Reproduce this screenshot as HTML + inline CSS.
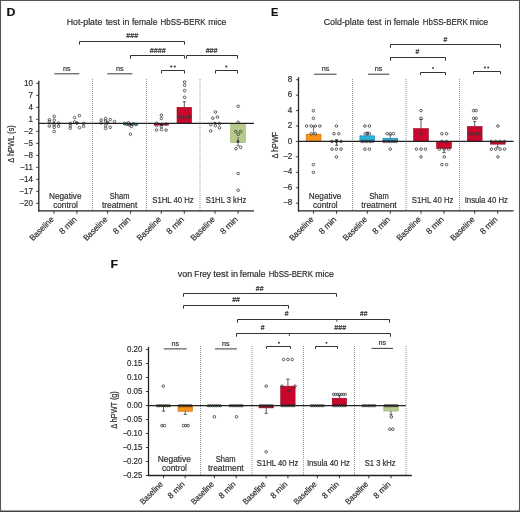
<!DOCTYPE html>
<html><head><meta charset="utf-8"><style>
html,body{margin:0;padding:0;background:#fff;}
svg{display:block;will-change:transform;}
text{font-family:"Liberation Sans", sans-serif;stroke:#2b2b2b;stroke-width:0.18px;paint-order:stroke;}
</style></head><body>
<svg width="520" height="512" viewBox="0 0 520 512">
<rect x="0" y="0" width="520" height="512" fill="#fff"/>
<text x="6.6" y="15.9" font-size="11" text-anchor="start" fill="#111" textLength="8.9" lengthAdjust="spacingAndGlyphs" font-weight="bold">D</text>
<text x="84.5" y="24.7" font-size="8.8" text-anchor="middle" fill="#2b2b2b" textLength="35.7" lengthAdjust="spacingAndGlyphs">Hot-plate</text>
<text x="112.75" y="24.7" font-size="8.8" text-anchor="middle" fill="#2b2b2b" textLength="14.2" lengthAdjust="spacingAndGlyphs">test</text>
<text x="125.95" y="24.7" font-size="8.8" text-anchor="middle" fill="#2b2b2b" textLength="6.8" lengthAdjust="spacingAndGlyphs">in</text>
<text x="144.65" y="24.7" font-size="8.8" text-anchor="middle" fill="#2b2b2b" textLength="25.4" lengthAdjust="spacingAndGlyphs">female</text>
<text x="183" y="24.7" font-size="8.8" text-anchor="middle" fill="#2b2b2b" textLength="44.9" lengthAdjust="spacingAndGlyphs">HbSS-BERK</text>
<text x="217.25" y="24.7" font-size="8.8" text-anchor="middle" fill="#2b2b2b" textLength="18.2" lengthAdjust="spacingAndGlyphs">mice</text>
<line x1="36.2" y1="83.3" x2="38.8" y2="83.3" stroke="#2b2b2b" stroke-width="0.9"/>
<text x="32.9" y="85.7" font-size="8.6" text-anchor="end" fill="#2b2b2b" textLength="8.9" lengthAdjust="spacingAndGlyphs">10</text>
<line x1="36.2" y1="95.3" x2="38.8" y2="95.3" stroke="#2b2b2b" stroke-width="0.9"/>
<text x="32.9" y="97.7" font-size="8.6" text-anchor="end" fill="#2b2b2b" textLength="4.45" lengthAdjust="spacingAndGlyphs">7</text>
<line x1="36.2" y1="107.3" x2="38.8" y2="107.3" stroke="#2b2b2b" stroke-width="0.9"/>
<text x="32.9" y="109.7" font-size="8.6" text-anchor="end" fill="#2b2b2b" textLength="4.45" lengthAdjust="spacingAndGlyphs">4</text>
<line x1="36.2" y1="119.3" x2="38.8" y2="119.3" stroke="#2b2b2b" stroke-width="0.9"/>
<text x="32.9" y="121.7" font-size="8.6" text-anchor="end" fill="#2b2b2b" textLength="4.45" lengthAdjust="spacingAndGlyphs">1</text>
<line x1="36.2" y1="131.3" x2="38.8" y2="131.3" stroke="#2b2b2b" stroke-width="0.9"/>
<text x="32.9" y="133.7" font-size="8.6" text-anchor="end" fill="#2b2b2b" textLength="9.12" lengthAdjust="spacingAndGlyphs">−2</text>
<line x1="36.2" y1="143.3" x2="38.8" y2="143.3" stroke="#2b2b2b" stroke-width="0.9"/>
<text x="32.9" y="145.7" font-size="8.6" text-anchor="end" fill="#2b2b2b" textLength="9.12" lengthAdjust="spacingAndGlyphs">−5</text>
<line x1="36.2" y1="155.3" x2="38.8" y2="155.3" stroke="#2b2b2b" stroke-width="0.9"/>
<text x="32.9" y="157.7" font-size="8.6" text-anchor="end" fill="#2b2b2b" textLength="9.12" lengthAdjust="spacingAndGlyphs">−8</text>
<line x1="36.2" y1="167.3" x2="38.8" y2="167.3" stroke="#2b2b2b" stroke-width="0.9"/>
<text x="32.9" y="169.7" font-size="8.6" text-anchor="end" fill="#2b2b2b" textLength="12.97" lengthAdjust="spacingAndGlyphs">−11</text>
<line x1="36.2" y1="179.3" x2="38.8" y2="179.3" stroke="#2b2b2b" stroke-width="0.9"/>
<text x="32.9" y="181.7" font-size="8.6" text-anchor="end" fill="#2b2b2b" textLength="13.57" lengthAdjust="spacingAndGlyphs">−14</text>
<line x1="36.2" y1="191.3" x2="38.8" y2="191.3" stroke="#2b2b2b" stroke-width="0.9"/>
<text x="32.9" y="193.7" font-size="8.6" text-anchor="end" fill="#2b2b2b" textLength="13.57" lengthAdjust="spacingAndGlyphs">−17</text>
<line x1="36.2" y1="203.3" x2="38.8" y2="203.3" stroke="#2b2b2b" stroke-width="0.9"/>
<text x="32.9" y="205.7" font-size="8.6" text-anchor="end" fill="#2b2b2b" textLength="13.57" lengthAdjust="spacingAndGlyphs">−20</text>
<text transform="translate(14.1,144) rotate(-90)" x="0" y="0" font-size="8.3" text-anchor="middle" fill="#2b2b2b" textLength="37.4" lengthAdjust="spacingAndGlyphs">Δ hPWL (s)</text>
<line x1="92.5" y1="79" x2="92.5" y2="211" stroke="#959595" stroke-width="1.0" stroke-dasharray="1 1"/>
<line x1="146.5" y1="79" x2="146.5" y2="211" stroke="#959595" stroke-width="1.0" stroke-dasharray="1 1"/>
<line x1="200" y1="79" x2="200" y2="211" stroke="#959595" stroke-width="1.0" stroke-dasharray="1 1"/>
<rect x="123.3" y="123.3" width="14.6" height="1.6" fill="#2bb1da" stroke="#1a7fb0" stroke-width="0.6"/>
<rect x="154" y="123.3" width="14.6" height="1.8" fill="#c9062b" stroke="#9a0a20" stroke-width="0.6"/>
<rect x="177" y="107.3" width="14.6" height="16" fill="#c9062b" stroke="#9a0a20" stroke-width="0.6"/>
<rect x="207.7" y="123.1" width="14.6" height="0.2" fill="#b7ca8c" stroke="#98ad6c" stroke-width="0.6"/>
<rect x="230.7" y="123.3" width="14.6" height="19.2" fill="#b7ca8c" stroke="#98ad6c" stroke-width="0.6"/>
<line x1="184.3" y1="107.3" x2="184.3" y2="101.7" stroke="#333" stroke-width="0.8"/>
<line x1="182.7" y1="101.7" x2="185.9" y2="101.7" stroke="#333" stroke-width="0.8"/>
<line x1="238" y1="137" x2="238" y2="145.8" stroke="#444" stroke-width="0.8"/>
<line x1="236.5" y1="145.8" x2="239.5" y2="145.8" stroke="#444" stroke-width="0.8"/>
<circle cx="49.4" cy="119.8" r="1.3" fill="none" stroke="#383838" stroke-width="0.8"/>
<circle cx="49.4" cy="121.6" r="1.3" fill="none" stroke="#383838" stroke-width="0.8"/>
<circle cx="49.4" cy="126.1" r="1.3" fill="none" stroke="#383838" stroke-width="0.8"/>
<circle cx="54.2" cy="116.4" r="1.3" fill="none" stroke="#383838" stroke-width="0.8"/>
<circle cx="54.2" cy="120.2" r="1.3" fill="none" stroke="#383838" stroke-width="0.8"/>
<circle cx="54.2" cy="127.3" r="1.3" fill="none" stroke="#383838" stroke-width="0.8"/>
<circle cx="54.2" cy="131.5" r="1.3" fill="none" stroke="#383838" stroke-width="0.8"/>
<circle cx="54.2" cy="124.8" r="1.3" fill="none" stroke="#383838" stroke-width="0.8"/>
<circle cx="58.6" cy="123.2" r="1.3" fill="none" stroke="#383838" stroke-width="0.8"/>
<circle cx="58.6" cy="126.3" r="1.3" fill="none" stroke="#383838" stroke-width="0.8"/>
<circle cx="70.3" cy="123.4" r="1.3" fill="none" stroke="#383838" stroke-width="0.8"/>
<circle cx="70.3" cy="125.6" r="1.3" fill="none" stroke="#383838" stroke-width="0.8"/>
<circle cx="70.3" cy="128.3" r="1.3" fill="none" stroke="#383838" stroke-width="0.8"/>
<circle cx="74.6" cy="117.5" r="1.3" fill="none" stroke="#383838" stroke-width="0.8"/>
<circle cx="74.6" cy="121.9" r="1.3" fill="none" stroke="#383838" stroke-width="0.8"/>
<circle cx="77.1" cy="123" r="1.3" fill="none" stroke="#383838" stroke-width="0.8"/>
<circle cx="79.4" cy="115.6" r="1.3" fill="none" stroke="#383838" stroke-width="0.8"/>
<circle cx="79.4" cy="127.7" r="1.3" fill="none" stroke="#383838" stroke-width="0.8"/>
<circle cx="83.6" cy="123.4" r="1.3" fill="none" stroke="#383838" stroke-width="0.8"/>
<circle cx="83.6" cy="126.3" r="1.3" fill="none" stroke="#383838" stroke-width="0.8"/>
<circle cx="101.2" cy="120.1" r="1.3" fill="none" stroke="#383838" stroke-width="0.8"/>
<circle cx="101.2" cy="123" r="1.3" fill="none" stroke="#383838" stroke-width="0.8"/>
<circle cx="105.6" cy="118.6" r="1.3" fill="none" stroke="#383838" stroke-width="0.8"/>
<circle cx="105.6" cy="121" r="1.3" fill="none" stroke="#383838" stroke-width="0.8"/>
<circle cx="105.6" cy="125.6" r="1.3" fill="none" stroke="#383838" stroke-width="0.8"/>
<circle cx="105.6" cy="128.4" r="1.3" fill="none" stroke="#383838" stroke-width="0.8"/>
<circle cx="107.6" cy="122.5" r="1.3" fill="none" stroke="#383838" stroke-width="0.8"/>
<circle cx="110.2" cy="119.6" r="1.3" fill="none" stroke="#383838" stroke-width="0.8"/>
<circle cx="110.2" cy="127.3" r="1.3" fill="none" stroke="#383838" stroke-width="0.8"/>
<circle cx="114.5" cy="121.5" r="1.3" fill="none" stroke="#383838" stroke-width="0.8"/>
<circle cx="124.5" cy="123.3" r="1.3" fill="none" stroke="#383838" stroke-width="0.8"/>
<circle cx="127" cy="124.2" r="1.3" fill="none" stroke="#383838" stroke-width="0.8"/>
<circle cx="129.5" cy="125" r="1.3" fill="none" stroke="#383838" stroke-width="0.8"/>
<circle cx="131.5" cy="126.5" r="1.3" fill="none" stroke="#383838" stroke-width="0.8"/>
<circle cx="133.5" cy="123.8" r="1.3" fill="none" stroke="#383838" stroke-width="0.8"/>
<circle cx="136" cy="124.5" r="1.3" fill="none" stroke="#383838" stroke-width="0.8"/>
<circle cx="130.4" cy="134.2" r="1.3" fill="none" stroke="#383838" stroke-width="0.8"/>
<circle cx="128.5" cy="122.8" r="1.3" fill="none" stroke="#383838" stroke-width="0.8"/>
<circle cx="156.5" cy="123.2" r="1.3" fill="none" stroke="#383838" stroke-width="0.8"/>
<circle cx="161.4" cy="115.1" r="1.3" fill="none" stroke="#383838" stroke-width="0.8"/>
<circle cx="161.4" cy="118.4" r="1.3" fill="none" stroke="#383838" stroke-width="0.8"/>
<circle cx="161.4" cy="126.6" r="1.3" fill="none" stroke="#383838" stroke-width="0.8"/>
<circle cx="161.4" cy="129.5" r="1.3" fill="none" stroke="#383838" stroke-width="0.8"/>
<circle cx="156.5" cy="125.4" r="1.3" fill="none" stroke="#383838" stroke-width="0.8"/>
<circle cx="156.5" cy="130.1" r="1.3" fill="none" stroke="#383838" stroke-width="0.8"/>
<circle cx="166.1" cy="130.1" r="1.3" fill="none" stroke="#383838" stroke-width="0.8"/>
<circle cx="166.1" cy="124" r="1.3" fill="none" stroke="#383838" stroke-width="0.8"/>
<circle cx="184.6" cy="82" r="1.3" fill="none" stroke="#383838" stroke-width="0.8"/>
<circle cx="184.6" cy="85.3" r="1.3" fill="none" stroke="#383838" stroke-width="0.8"/>
<circle cx="184.6" cy="90.6" r="1.3" fill="none" stroke="#383838" stroke-width="0.8"/>
<circle cx="184.6" cy="97.3" r="1.3" fill="none" stroke="#383838" stroke-width="0.8"/>
<circle cx="179" cy="116.6" r="1.3" fill="none" stroke="#383838" stroke-width="0.8"/>
<circle cx="190" cy="116.6" r="1.3" fill="none" stroke="#383838" stroke-width="0.8"/>
<circle cx="184.6" cy="117.8" r="1.3" fill="none" stroke="#383838" stroke-width="0.8"/>
<circle cx="181.7" cy="117" r="1.3" fill="none" stroke="#383838" stroke-width="0.8"/>
<circle cx="187.5" cy="117" r="1.3" fill="none" stroke="#383838" stroke-width="0.8"/>
<circle cx="212.8" cy="118.2" r="1.3" fill="none" stroke="#383838" stroke-width="0.8"/>
<circle cx="215.4" cy="112" r="1.3" fill="none" stroke="#383838" stroke-width="0.8"/>
<circle cx="217.5" cy="117.1" r="1.3" fill="none" stroke="#383838" stroke-width="0.8"/>
<circle cx="210.7" cy="124.7" r="1.3" fill="none" stroke="#383838" stroke-width="0.8"/>
<circle cx="210.7" cy="130.9" r="1.3" fill="none" stroke="#383838" stroke-width="0.8"/>
<circle cx="219.5" cy="123.7" r="1.3" fill="none" stroke="#383838" stroke-width="0.8"/>
<circle cx="219.5" cy="127.8" r="1.3" fill="none" stroke="#383838" stroke-width="0.8"/>
<circle cx="215.4" cy="125.7" r="1.3" fill="none" stroke="#383838" stroke-width="0.8"/>
<circle cx="238.2" cy="106.3" r="1.3" fill="none" stroke="#383838" stroke-width="0.8"/>
<circle cx="238.2" cy="122.3" r="1.3" fill="none" stroke="#383838" stroke-width="0.8"/>
<circle cx="235.7" cy="131.5" r="1.3" fill="none" stroke="#383838" stroke-width="0.8"/>
<circle cx="240.6" cy="131.5" r="1.3" fill="none" stroke="#383838" stroke-width="0.8"/>
<circle cx="238.2" cy="134.3" r="1.3" fill="none" stroke="#383838" stroke-width="0.8"/>
<circle cx="236" cy="148.7" r="1.3" fill="none" stroke="#383838" stroke-width="0.8"/>
<circle cx="240.6" cy="147.3" r="1.3" fill="none" stroke="#383838" stroke-width="0.8"/>
<circle cx="238.2" cy="173.5" r="1.3" fill="none" stroke="#383838" stroke-width="0.8"/>
<circle cx="238.2" cy="190.3" r="1.3" fill="none" stroke="#383838" stroke-width="0.8"/>
<circle cx="53.9" cy="123.2" r="1.0" fill="#222" stroke="#222" stroke-width="0.6"/>
<circle cx="76.9" cy="123.2" r="1.0" fill="#222" stroke="#222" stroke-width="0.6"/>
<circle cx="107.6" cy="123.2" r="1.0" fill="#222" stroke="#222" stroke-width="0.6"/>
<circle cx="130.6" cy="124.4" r="1.0" fill="#222" stroke="#222" stroke-width="0.6"/>
<circle cx="161.3" cy="124.7" r="1.0" fill="#222" stroke="#222" stroke-width="0.6"/>
<circle cx="215" cy="123.2" r="1.0" fill="#222" stroke="#222" stroke-width="0.6"/>
<circle cx="238" cy="141.5" r="1.1" fill="#333" stroke="#333" stroke-width="0.5"/>
<line x1="38.8" y1="80.7" x2="38.8" y2="211.4" stroke="#222" stroke-width="1.3"/>
<line x1="38.2" y1="210.8" x2="254" y2="210.8" stroke="#222" stroke-width="1.3"/>
<line x1="38.8" y1="123.3" x2="254" y2="123.3" stroke="#222" stroke-width="1.25"/>
<line x1="53.9" y1="210.8" x2="53.9" y2="213.8" stroke="#222" stroke-width="0.9"/>
<line x1="76.9" y1="210.8" x2="76.9" y2="213.8" stroke="#222" stroke-width="0.9"/>
<line x1="107.6" y1="210.8" x2="107.6" y2="213.8" stroke="#222" stroke-width="0.9"/>
<line x1="130.6" y1="210.8" x2="130.6" y2="213.8" stroke="#222" stroke-width="0.9"/>
<line x1="161.3" y1="210.8" x2="161.3" y2="213.8" stroke="#222" stroke-width="0.9"/>
<line x1="184.3" y1="210.8" x2="184.3" y2="213.8" stroke="#222" stroke-width="0.9"/>
<line x1="215" y1="210.8" x2="215" y2="213.8" stroke="#222" stroke-width="0.9"/>
<line x1="238" y1="210.8" x2="238" y2="213.8" stroke="#222" stroke-width="0.9"/>
<text x="65.25" y="198.5" font-size="8.8" text-anchor="middle" fill="#2b2b2b" textLength="32.5" lengthAdjust="spacingAndGlyphs">Negative</text>
<text x="65.5" y="207.7" font-size="8.8" text-anchor="middle" fill="#2b2b2b" textLength="24.7" lengthAdjust="spacingAndGlyphs">control</text>
<text x="119.6" y="198.5" font-size="8.8" text-anchor="middle" fill="#2b2b2b" textLength="19.6" lengthAdjust="spacingAndGlyphs">Sham</text>
<text x="119.6" y="207.7" font-size="8.8" text-anchor="middle" fill="#2b2b2b" textLength="35.4" lengthAdjust="spacingAndGlyphs">treatment</text>
<text x="173" y="203.1" font-size="8.8" text-anchor="middle" fill="#2b2b2b" textLength="41.5" lengthAdjust="spacingAndGlyphs">S1HL 40 Hz</text>
<text x="226" y="203.1" font-size="8.8" text-anchor="middle" fill="#2b2b2b" textLength="40.4" lengthAdjust="spacingAndGlyphs">S1HL 3 kHz</text>
<text transform="translate(54.3,220) rotate(-45)" x="0" y="0" font-size="8.5" text-anchor="end" fill="#2b2b2b" textLength="30.2" lengthAdjust="spacingAndGlyphs">Baseline</text>
<text transform="translate(77.3,220) rotate(-45)" x="0" y="0" font-size="8.5" text-anchor="end" fill="#2b2b2b" textLength="21" lengthAdjust="spacingAndGlyphs">8 min</text>
<text transform="translate(108,220) rotate(-45)" x="0" y="0" font-size="8.5" text-anchor="end" fill="#2b2b2b" textLength="30.2" lengthAdjust="spacingAndGlyphs">Baseline</text>
<text transform="translate(131,220) rotate(-45)" x="0" y="0" font-size="8.5" text-anchor="end" fill="#2b2b2b" textLength="21" lengthAdjust="spacingAndGlyphs">8 min</text>
<text transform="translate(161.7,220) rotate(-45)" x="0" y="0" font-size="8.5" text-anchor="end" fill="#2b2b2b" textLength="30.2" lengthAdjust="spacingAndGlyphs">Baseline</text>
<text transform="translate(184.7,220) rotate(-45)" x="0" y="0" font-size="8.5" text-anchor="end" fill="#2b2b2b" textLength="21" lengthAdjust="spacingAndGlyphs">8 min</text>
<text transform="translate(215.4,220) rotate(-45)" x="0" y="0" font-size="8.5" text-anchor="end" fill="#2b2b2b" textLength="30.2" lengthAdjust="spacingAndGlyphs">Baseline</text>
<text transform="translate(238.4,220) rotate(-45)" x="0" y="0" font-size="8.5" text-anchor="end" fill="#2b2b2b" textLength="21" lengthAdjust="spacingAndGlyphs">8 min</text>
<line x1="54.4" y1="73.8" x2="79.3" y2="73.8" stroke="#3a3a3a" stroke-width="1.0"/>
<text x="66.9" y="70.5" font-size="8.0" text-anchor="middle" fill="#2b2b2b" textLength="7.6" lengthAdjust="spacingAndGlyphs">ns</text>
<line x1="107.3" y1="73.8" x2="132.4" y2="73.8" stroke="#3a3a3a" stroke-width="1.0"/>
<text x="119.8" y="70.5" font-size="8.0" text-anchor="middle" fill="#2b2b2b" textLength="7.6" lengthAdjust="spacingAndGlyphs">ns</text>
<path d="M79.5,44.7 L79.5,41.5 L184.5,41.5 L184.5,44.7" stroke="#333" stroke-width="1.0" fill="none"/>
<text x="132.2" y="38.38" font-size="6.8" text-anchor="middle" fill="#2b2b2b" textLength="11.84" lengthAdjust="spacingAndGlyphs">###</text>
<path d="M130.5,58.7 L130.5,55.5 L184.5,55.5 L184.5,58.7" stroke="#333" stroke-width="1.0" fill="none"/>
<text x="157.75" y="52.58" font-size="6.8" text-anchor="middle" fill="#2b2b2b" textLength="15.94" lengthAdjust="spacingAndGlyphs">####</text>
<path d="M186.5,58.7 L186.5,55.5 L237.5,55.5 L237.5,58.7" stroke="#333" stroke-width="1.0" fill="none"/>
<text x="211.6" y="52.58" font-size="6.8" text-anchor="middle" fill="#2b2b2b" textLength="11.84" lengthAdjust="spacingAndGlyphs">###</text>
<path d="M161.5,73.5 L161.5,70.5 L184.5,70.5 L184.5,73.5" stroke="#333" stroke-width="1.0" fill="none"/>
<circle cx="171.28" cy="66.5" r="1.1" fill="#333"/>
<circle cx="174.72" cy="66.5" r="1.1" fill="#333"/>
<path d="M215.5,73.5 L215.5,70.5 L237.5,70.5 L237.5,73.5" stroke="#333" stroke-width="1.0" fill="none"/>
<circle cx="226.3" cy="66.5" r="1.1" fill="#333"/>
<text x="271.1" y="16.2" font-size="11" text-anchor="start" fill="#111" font-weight="bold">E</text>
<text x="343.88" y="25" font-size="8.8" text-anchor="middle" fill="#2b2b2b" textLength="40.45" lengthAdjust="spacingAndGlyphs">Cold-plate</text>
<text x="374.35" y="25" font-size="8.8" text-anchor="middle" fill="#2b2b2b" textLength="14.2" lengthAdjust="spacingAndGlyphs">test</text>
<text x="387.85" y="25" font-size="8.8" text-anchor="middle" fill="#2b2b2b" textLength="6.8" lengthAdjust="spacingAndGlyphs">in</text>
<text x="406.4" y="25" font-size="8.8" text-anchor="middle" fill="#2b2b2b" textLength="25.5" lengthAdjust="spacingAndGlyphs">female</text>
<text x="445.3" y="25" font-size="8.8" text-anchor="middle" fill="#2b2b2b" textLength="44.9" lengthAdjust="spacingAndGlyphs">HbSS-BERK</text>
<text x="478.95" y="25" font-size="8.8" text-anchor="middle" fill="#2b2b2b" textLength="18.6" lengthAdjust="spacingAndGlyphs">mice</text>
<line x1="295.9" y1="79.73" x2="298.5" y2="79.73" stroke="#2b2b2b" stroke-width="0.9"/>
<text x="292.1" y="81.83" font-size="8.6" text-anchor="end" fill="#2b2b2b" textLength="4.45" lengthAdjust="spacingAndGlyphs">8</text>
<line x1="295.9" y1="95.16" x2="298.5" y2="95.16" stroke="#2b2b2b" stroke-width="0.9"/>
<text x="292.1" y="97.26" font-size="8.6" text-anchor="end" fill="#2b2b2b" textLength="4.45" lengthAdjust="spacingAndGlyphs">6</text>
<line x1="295.9" y1="110.59" x2="298.5" y2="110.59" stroke="#2b2b2b" stroke-width="0.9"/>
<text x="292.1" y="112.69" font-size="8.6" text-anchor="end" fill="#2b2b2b" textLength="4.45" lengthAdjust="spacingAndGlyphs">4</text>
<line x1="295.9" y1="126.02" x2="298.5" y2="126.02" stroke="#2b2b2b" stroke-width="0.9"/>
<text x="292.1" y="128.12" font-size="8.6" text-anchor="end" fill="#2b2b2b" textLength="4.45" lengthAdjust="spacingAndGlyphs">2</text>
<line x1="295.9" y1="141.45" x2="298.5" y2="141.45" stroke="#2b2b2b" stroke-width="0.9"/>
<text x="292.1" y="143.55" font-size="8.6" text-anchor="end" fill="#2b2b2b" textLength="4.45" lengthAdjust="spacingAndGlyphs">0</text>
<line x1="295.9" y1="156.88" x2="298.5" y2="156.88" stroke="#2b2b2b" stroke-width="0.9"/>
<text x="292.1" y="158.98" font-size="8.6" text-anchor="end" fill="#2b2b2b" textLength="9.12" lengthAdjust="spacingAndGlyphs">−2</text>
<line x1="295.9" y1="172.31" x2="298.5" y2="172.31" stroke="#2b2b2b" stroke-width="0.9"/>
<text x="292.1" y="174.41" font-size="8.6" text-anchor="end" fill="#2b2b2b" textLength="9.12" lengthAdjust="spacingAndGlyphs">−4</text>
<line x1="295.9" y1="187.74" x2="298.5" y2="187.74" stroke="#2b2b2b" stroke-width="0.9"/>
<text x="292.1" y="189.84" font-size="8.6" text-anchor="end" fill="#2b2b2b" textLength="9.12" lengthAdjust="spacingAndGlyphs">−6</text>
<line x1="295.9" y1="203.17" x2="298.5" y2="203.17" stroke="#2b2b2b" stroke-width="0.9"/>
<text x="292.1" y="205.27" font-size="8.6" text-anchor="end" fill="#2b2b2b" textLength="9.12" lengthAdjust="spacingAndGlyphs">−8</text>
<text transform="translate(277.8,145.1) rotate(-90)" x="0" y="0" font-size="9.0" text-anchor="middle" fill="#2b2b2b" textLength="26.9" lengthAdjust="spacingAndGlyphs">Δ hPWF</text>
<line x1="352.5" y1="79" x2="352.5" y2="211" stroke="#959595" stroke-width="1.0" stroke-dasharray="1 1"/>
<line x1="406" y1="79" x2="406" y2="211" stroke="#959595" stroke-width="1.0" stroke-dasharray="1 1"/>
<line x1="459.5" y1="79" x2="459.5" y2="211" stroke="#959595" stroke-width="1.0" stroke-dasharray="1 1"/>
<rect x="306.2" y="134.12" width="14.8" height="7.33" fill="#f8921a" stroke="#c56a00" stroke-width="0.6"/>
<rect x="359.9" y="135.82" width="14.8" height="5.63" fill="#2bb1da" stroke="#1a7fb0" stroke-width="0.6"/>
<rect x="382.9" y="138.21" width="14.8" height="3.24" fill="#2bb1da" stroke="#1a7fb0" stroke-width="0.6"/>
<rect x="413.6" y="128.57" width="14.8" height="12.88" fill="#c9062b" stroke="#9a0a20" stroke-width="0.6"/>
<rect x="436.6" y="141.45" width="14.8" height="6.94" fill="#c9062b" stroke="#9a0a20" stroke-width="0.6"/>
<rect x="467.3" y="126.41" width="14.8" height="15.04" fill="#c9062b" stroke="#9a0a20" stroke-width="0.6"/>
<rect x="490.3" y="141.45" width="14.8" height="2.7" fill="#c9062b" stroke="#9a0a20" stroke-width="0.6"/>
<line x1="313.6" y1="134.12" x2="313.6" y2="126.41" stroke="#555" stroke-width="0.8"/>
<line x1="312" y1="126.41" x2="315.2" y2="126.41" stroke="#555" stroke-width="0.8"/>
<line x1="336.6" y1="139.7" x2="336.6" y2="145.3" stroke="#222" stroke-width="0.8"/>
<line x1="335.1" y1="139.7" x2="338.1" y2="139.7" stroke="#222" stroke-width="0.8"/>
<line x1="335.1" y1="145.3" x2="338.1" y2="145.3" stroke="#222" stroke-width="0.8"/>
<line x1="367.3" y1="135.82" x2="367.3" y2="132.19" stroke="#446" stroke-width="0.8"/>
<line x1="365.7" y1="132.19" x2="368.9" y2="132.19" stroke="#446" stroke-width="0.8"/>
<line x1="390.3" y1="138.21" x2="390.3" y2="134.89" stroke="#446" stroke-width="0.8"/>
<line x1="388.7" y1="134.89" x2="391.9" y2="134.89" stroke="#446" stroke-width="0.8"/>
<line x1="421" y1="128.57" x2="421" y2="119.46" stroke="#333" stroke-width="0.8"/>
<line x1="419.4" y1="119.46" x2="422.6" y2="119.46" stroke="#333" stroke-width="0.8"/>
<line x1="444" y1="148.39" x2="444" y2="152.64" stroke="#333" stroke-width="0.8"/>
<line x1="442.4" y1="152.64" x2="445.6" y2="152.64" stroke="#333" stroke-width="0.8"/>
<line x1="474.7" y1="126.41" x2="474.7" y2="121.39" stroke="#333" stroke-width="0.8"/>
<line x1="473.1" y1="121.39" x2="476.3" y2="121.39" stroke="#333" stroke-width="0.8"/>
<line x1="497.7" y1="144.15" x2="497.7" y2="147.24" stroke="#333" stroke-width="0.8"/>
<line x1="496.1" y1="147.24" x2="499.3" y2="147.24" stroke="#333" stroke-width="0.8"/>
<circle cx="313.4" cy="110.59" r="1.3" fill="none" stroke="#383838" stroke-width="0.8"/>
<circle cx="313.4" cy="118.3" r="1.3" fill="none" stroke="#383838" stroke-width="0.8"/>
<circle cx="306.6" cy="126.02" r="1.3" fill="none" stroke="#383838" stroke-width="0.8"/>
<circle cx="311.3" cy="126.02" r="1.3" fill="none" stroke="#383838" stroke-width="0.8"/>
<circle cx="315.3" cy="126.02" r="1.3" fill="none" stroke="#383838" stroke-width="0.8"/>
<circle cx="319.8" cy="126.02" r="1.3" fill="none" stroke="#383838" stroke-width="0.8"/>
<circle cx="311.4" cy="133.73" r="1.3" fill="none" stroke="#383838" stroke-width="0.8"/>
<circle cx="315.4" cy="133.73" r="1.3" fill="none" stroke="#383838" stroke-width="0.8"/>
<circle cx="313.4" cy="164.59" r="1.3" fill="none" stroke="#383838" stroke-width="0.8"/>
<circle cx="313.4" cy="172.31" r="1.3" fill="none" stroke="#383838" stroke-width="0.8"/>
<circle cx="336.4" cy="126.02" r="1.3" fill="none" stroke="#383838" stroke-width="0.8"/>
<circle cx="334" cy="133.73" r="1.3" fill="none" stroke="#383838" stroke-width="0.8"/>
<circle cx="338.8" cy="133.73" r="1.3" fill="none" stroke="#383838" stroke-width="0.8"/>
<circle cx="332" cy="141.45" r="1.3" fill="none" stroke="#383838" stroke-width="0.8"/>
<circle cx="336.4" cy="141.45" r="1.3" fill="none" stroke="#383838" stroke-width="0.8"/>
<circle cx="341" cy="141.45" r="1.3" fill="none" stroke="#383838" stroke-width="0.8"/>
<circle cx="332" cy="149.16" r="1.3" fill="none" stroke="#383838" stroke-width="0.8"/>
<circle cx="336.4" cy="149.16" r="1.3" fill="none" stroke="#383838" stroke-width="0.8"/>
<circle cx="341" cy="149.16" r="1.3" fill="none" stroke="#383838" stroke-width="0.8"/>
<circle cx="336.4" cy="156.88" r="1.3" fill="none" stroke="#383838" stroke-width="0.8"/>
<circle cx="364.9" cy="126.02" r="1.3" fill="none" stroke="#383838" stroke-width="0.8"/>
<circle cx="369.4" cy="126.02" r="1.3" fill="none" stroke="#383838" stroke-width="0.8"/>
<circle cx="365.3" cy="133.73" r="1.3" fill="none" stroke="#383838" stroke-width="0.8"/>
<circle cx="367.4" cy="133.73" r="1.3" fill="none" stroke="#383838" stroke-width="0.8"/>
<circle cx="369.4" cy="133.73" r="1.3" fill="none" stroke="#383838" stroke-width="0.8"/>
<circle cx="361.9" cy="141.45" r="1.3" fill="none" stroke="#383838" stroke-width="0.8"/>
<circle cx="364.5" cy="141.45" r="1.3" fill="none" stroke="#383838" stroke-width="0.8"/>
<circle cx="367.3" cy="141.45" r="1.3" fill="none" stroke="#383838" stroke-width="0.8"/>
<circle cx="370" cy="141.45" r="1.3" fill="none" stroke="#383838" stroke-width="0.8"/>
<circle cx="372.6" cy="141.45" r="1.3" fill="none" stroke="#383838" stroke-width="0.8"/>
<circle cx="364.9" cy="149.16" r="1.3" fill="none" stroke="#383838" stroke-width="0.8"/>
<circle cx="369.4" cy="149.16" r="1.3" fill="none" stroke="#383838" stroke-width="0.8"/>
<circle cx="387.2" cy="133.73" r="1.3" fill="none" stroke="#383838" stroke-width="0.8"/>
<circle cx="390.3" cy="133.73" r="1.3" fill="none" stroke="#383838" stroke-width="0.8"/>
<circle cx="393.4" cy="133.73" r="1.3" fill="none" stroke="#383838" stroke-width="0.8"/>
<circle cx="384" cy="141.45" r="1.3" fill="none" stroke="#383838" stroke-width="0.8"/>
<circle cx="386.5" cy="141.45" r="1.3" fill="none" stroke="#383838" stroke-width="0.8"/>
<circle cx="389" cy="141.45" r="1.3" fill="none" stroke="#383838" stroke-width="0.8"/>
<circle cx="391.5" cy="141.45" r="1.3" fill="none" stroke="#383838" stroke-width="0.8"/>
<circle cx="394" cy="141.45" r="1.3" fill="none" stroke="#383838" stroke-width="0.8"/>
<circle cx="396.5" cy="141.45" r="1.3" fill="none" stroke="#383838" stroke-width="0.8"/>
<circle cx="390.3" cy="149.16" r="1.3" fill="none" stroke="#383838" stroke-width="0.8"/>
<circle cx="421" cy="110.59" r="1.3" fill="none" stroke="#383838" stroke-width="0.8"/>
<circle cx="421" cy="118.3" r="1.3" fill="none" stroke="#383838" stroke-width="0.8"/>
<circle cx="421" cy="133.73" r="1.3" fill="none" stroke="#383838" stroke-width="0.8"/>
<circle cx="416.5" cy="149.16" r="1.3" fill="none" stroke="#383838" stroke-width="0.8"/>
<circle cx="421" cy="149.16" r="1.3" fill="none" stroke="#383838" stroke-width="0.8"/>
<circle cx="425.5" cy="149.16" r="1.3" fill="none" stroke="#383838" stroke-width="0.8"/>
<circle cx="421" cy="156.88" r="1.3" fill="none" stroke="#383838" stroke-width="0.8"/>
<circle cx="441.9" cy="133.73" r="1.3" fill="none" stroke="#383838" stroke-width="0.8"/>
<circle cx="446.6" cy="133.73" r="1.3" fill="none" stroke="#383838" stroke-width="0.8"/>
<circle cx="441.9" cy="141.45" r="1.3" fill="none" stroke="#383838" stroke-width="0.8"/>
<circle cx="446.6" cy="141.45" r="1.3" fill="none" stroke="#383838" stroke-width="0.8"/>
<circle cx="439.5" cy="149.16" r="1.3" fill="none" stroke="#383838" stroke-width="0.8"/>
<circle cx="444.3" cy="149.16" r="1.3" fill="none" stroke="#383838" stroke-width="0.8"/>
<circle cx="448.6" cy="149.16" r="1.3" fill="none" stroke="#383838" stroke-width="0.8"/>
<circle cx="444.3" cy="156.88" r="1.3" fill="none" stroke="#383838" stroke-width="0.8"/>
<circle cx="441.9" cy="164.59" r="1.3" fill="none" stroke="#383838" stroke-width="0.8"/>
<circle cx="446.6" cy="164.59" r="1.3" fill="none" stroke="#383838" stroke-width="0.8"/>
<circle cx="473.6" cy="110.59" r="1.3" fill="none" stroke="#383838" stroke-width="0.8"/>
<circle cx="476.2" cy="110.59" r="1.3" fill="none" stroke="#383838" stroke-width="0.8"/>
<circle cx="473.6" cy="118.3" r="1.3" fill="none" stroke="#383838" stroke-width="0.8"/>
<circle cx="476.2" cy="118.3" r="1.3" fill="none" stroke="#383838" stroke-width="0.8"/>
<circle cx="469.5" cy="133.73" r="1.3" fill="none" stroke="#383838" stroke-width="0.8"/>
<circle cx="472.1" cy="133.73" r="1.3" fill="none" stroke="#383838" stroke-width="0.8"/>
<circle cx="474.7" cy="133.73" r="1.3" fill="none" stroke="#383838" stroke-width="0.8"/>
<circle cx="477.3" cy="133.73" r="1.3" fill="none" stroke="#383838" stroke-width="0.8"/>
<circle cx="479.9" cy="133.73" r="1.3" fill="none" stroke="#383838" stroke-width="0.8"/>
<circle cx="497.9" cy="126.02" r="1.3" fill="none" stroke="#383838" stroke-width="0.8"/>
<circle cx="491.3" cy="141.45" r="1.3" fill="none" stroke="#383838" stroke-width="0.8"/>
<circle cx="495.7" cy="141.45" r="1.3" fill="none" stroke="#383838" stroke-width="0.8"/>
<circle cx="500.1" cy="141.45" r="1.3" fill="none" stroke="#383838" stroke-width="0.8"/>
<circle cx="504.6" cy="141.45" r="1.3" fill="none" stroke="#383838" stroke-width="0.8"/>
<circle cx="491.3" cy="149.16" r="1.3" fill="none" stroke="#383838" stroke-width="0.8"/>
<circle cx="495.7" cy="149.16" r="1.3" fill="none" stroke="#383838" stroke-width="0.8"/>
<circle cx="500.1" cy="149.16" r="1.3" fill="none" stroke="#383838" stroke-width="0.8"/>
<circle cx="504.6" cy="149.16" r="1.3" fill="none" stroke="#383838" stroke-width="0.8"/>
<circle cx="497.9" cy="156.88" r="1.3" fill="none" stroke="#383838" stroke-width="0.8"/>
<circle cx="336.6" cy="141.45" r="1.0" fill="#222" stroke="#222" stroke-width="0.6"/>
<line x1="298.5" y1="77.2" x2="298.5" y2="211.4" stroke="#222" stroke-width="1.3"/>
<line x1="297.9" y1="210.8" x2="513.5" y2="210.8" stroke="#222" stroke-width="1.3"/>
<line x1="298.5" y1="141.45" x2="513.5" y2="141.45" stroke="#222" stroke-width="1.25"/>
<line x1="313.6" y1="210.8" x2="313.6" y2="213.8" stroke="#222" stroke-width="0.9"/>
<line x1="336.6" y1="210.8" x2="336.6" y2="213.8" stroke="#222" stroke-width="0.9"/>
<line x1="367.3" y1="210.8" x2="367.3" y2="213.8" stroke="#222" stroke-width="0.9"/>
<line x1="390.3" y1="210.8" x2="390.3" y2="213.8" stroke="#222" stroke-width="0.9"/>
<line x1="421" y1="210.8" x2="421" y2="213.8" stroke="#222" stroke-width="0.9"/>
<line x1="444" y1="210.8" x2="444" y2="213.8" stroke="#222" stroke-width="0.9"/>
<line x1="474.7" y1="210.8" x2="474.7" y2="213.8" stroke="#222" stroke-width="0.9"/>
<line x1="497.7" y1="210.8" x2="497.7" y2="213.8" stroke="#222" stroke-width="0.9"/>
<text x="325.1" y="198.5" font-size="8.8" text-anchor="middle" fill="#2b2b2b" textLength="32.5" lengthAdjust="spacingAndGlyphs">Negative</text>
<text x="325.3" y="207.7" font-size="8.8" text-anchor="middle" fill="#2b2b2b" textLength="24.7" lengthAdjust="spacingAndGlyphs">control</text>
<text x="379" y="198.5" font-size="8.8" text-anchor="middle" fill="#2b2b2b" textLength="19.6" lengthAdjust="spacingAndGlyphs">Sham</text>
<text x="379" y="207.7" font-size="8.8" text-anchor="middle" fill="#2b2b2b" textLength="35.4" lengthAdjust="spacingAndGlyphs">treatment</text>
<text x="432.6" y="203.1" font-size="8.8" text-anchor="middle" fill="#2b2b2b" textLength="41.6" lengthAdjust="spacingAndGlyphs">S1HL 40 Hz</text>
<text x="486.3" y="203.1" font-size="8.8" text-anchor="middle" fill="#2b2b2b" textLength="43.3" lengthAdjust="spacingAndGlyphs">Insula 40 Hz</text>
<text transform="translate(314,220) rotate(-45)" x="0" y="0" font-size="8.5" text-anchor="end" fill="#2b2b2b" textLength="30.2" lengthAdjust="spacingAndGlyphs">Baseline</text>
<text transform="translate(337,220) rotate(-45)" x="0" y="0" font-size="8.5" text-anchor="end" fill="#2b2b2b" textLength="21" lengthAdjust="spacingAndGlyphs">8 min</text>
<text transform="translate(367.7,220) rotate(-45)" x="0" y="0" font-size="8.5" text-anchor="end" fill="#2b2b2b" textLength="30.2" lengthAdjust="spacingAndGlyphs">Baseline</text>
<text transform="translate(390.7,220) rotate(-45)" x="0" y="0" font-size="8.5" text-anchor="end" fill="#2b2b2b" textLength="21" lengthAdjust="spacingAndGlyphs">8 min</text>
<text transform="translate(421.4,220) rotate(-45)" x="0" y="0" font-size="8.5" text-anchor="end" fill="#2b2b2b" textLength="30.2" lengthAdjust="spacingAndGlyphs">Baseline</text>
<text transform="translate(444.4,220) rotate(-45)" x="0" y="0" font-size="8.5" text-anchor="end" fill="#2b2b2b" textLength="21" lengthAdjust="spacingAndGlyphs">8 min</text>
<text transform="translate(475.1,220) rotate(-45)" x="0" y="0" font-size="8.5" text-anchor="end" fill="#2b2b2b" textLength="30.2" lengthAdjust="spacingAndGlyphs">Baseline</text>
<text transform="translate(498.1,220) rotate(-45)" x="0" y="0" font-size="8.5" text-anchor="end" fill="#2b2b2b" textLength="21" lengthAdjust="spacingAndGlyphs">8 min</text>
<line x1="314" y1="74.2" x2="336.5" y2="74.2" stroke="#3a3a3a" stroke-width="1.0"/>
<text x="325.5" y="70.6" font-size="8.0" text-anchor="middle" fill="#2b2b2b" textLength="7.6" lengthAdjust="spacingAndGlyphs">ns</text>
<line x1="368.1" y1="74.2" x2="389.4" y2="74.2" stroke="#3a3a3a" stroke-width="1.0"/>
<text x="378.5" y="70.6" font-size="8.0" text-anchor="middle" fill="#2b2b2b" textLength="7.6" lengthAdjust="spacingAndGlyphs">ns</text>
<path d="M390.5,47.7 L390.5,44.5 L500.5,44.5 L500.5,47.7" stroke="#333" stroke-width="1.0" fill="none"/>
<text x="445.4" y="41.68" font-size="6.8" text-anchor="middle" fill="#2b2b2b">#</text>
<path d="M390.5,60.7 L390.5,57.5 L445.5,57.5 L445.5,60.7" stroke="#333" stroke-width="1.0" fill="none"/>
<text x="417.4" y="54.08" font-size="6.8" text-anchor="middle" fill="#2b2b2b">#</text>
<path d="M420.5,75.1 L420.5,72.5 L445.5,72.5 L445.5,75.1" stroke="#333" stroke-width="1.0" fill="none"/>
<circle cx="433.05" cy="67.9" r="0.95" fill="#333"/>
<path d="M473.5,74.1 L473.5,71.5 L500.5,71.5 L500.5,74.1" stroke="#333" stroke-width="1.0" fill="none"/>
<circle cx="484.9" cy="67.5" r="0.95" fill="#333"/>
<circle cx="488.2" cy="67.5" r="0.95" fill="#333"/>
<text x="110.4" y="268.1" font-size="11" text-anchor="start" fill="#111" textLength="7.53" lengthAdjust="spacingAndGlyphs" font-weight="bold">F</text>
<text x="184.95" y="276.5" font-size="8.4" text-anchor="middle" fill="#2b2b2b" textLength="14.4" lengthAdjust="spacingAndGlyphs">von</text>
<text x="202.65" y="276.5" font-size="8.4" text-anchor="middle" fill="#2b2b2b" textLength="16.6" lengthAdjust="spacingAndGlyphs">Frey</text>
<text x="220.7" y="276.5" font-size="8.4" text-anchor="middle" fill="#2b2b2b" textLength="15.1" lengthAdjust="spacingAndGlyphs">test</text>
<text x="234.5" y="276.5" font-size="8.4" text-anchor="middle" fill="#2b2b2b" textLength="7.1" lengthAdjust="spacingAndGlyphs">in</text>
<text x="252.65" y="276.5" font-size="8.4" text-anchor="middle" fill="#2b2b2b" textLength="25.6" lengthAdjust="spacingAndGlyphs">female</text>
<text x="290.8" y="276.5" font-size="8.4" text-anchor="middle" fill="#2b2b2b" textLength="44.3" lengthAdjust="spacingAndGlyphs">HbSS-BERK</text>
<text x="324.5" y="276.5" font-size="8.4" text-anchor="middle" fill="#2b2b2b" textLength="18.7" lengthAdjust="spacingAndGlyphs">mice</text>
<line x1="145.9" y1="349.5" x2="148.5" y2="349.5" stroke="#2b2b2b" stroke-width="0.9"/>
<text x="142.4" y="351.8" font-size="8.6" text-anchor="end" fill="#2b2b2b" textLength="15.4" lengthAdjust="spacingAndGlyphs">0.20</text>
<line x1="145.9" y1="363.5" x2="148.5" y2="363.5" stroke="#2b2b2b" stroke-width="0.9"/>
<text x="142.4" y="365.8" font-size="8.6" text-anchor="end" fill="#2b2b2b" textLength="15.4" lengthAdjust="spacingAndGlyphs">0.15</text>
<line x1="145.9" y1="377.5" x2="148.5" y2="377.5" stroke="#2b2b2b" stroke-width="0.9"/>
<text x="142.4" y="379.8" font-size="8.6" text-anchor="end" fill="#2b2b2b" textLength="15.4" lengthAdjust="spacingAndGlyphs">0.10</text>
<line x1="145.9" y1="391.5" x2="148.5" y2="391.5" stroke="#2b2b2b" stroke-width="0.9"/>
<text x="142.4" y="393.8" font-size="8.6" text-anchor="end" fill="#2b2b2b" textLength="15.4" lengthAdjust="spacingAndGlyphs">0.05</text>
<line x1="145.9" y1="405.5" x2="148.5" y2="405.5" stroke="#2b2b2b" stroke-width="0.9"/>
<text x="142.4" y="407.8" font-size="8.6" text-anchor="end" fill="#2b2b2b" textLength="15.4" lengthAdjust="spacingAndGlyphs">0.00</text>
<line x1="145.9" y1="419.5" x2="148.5" y2="419.5" stroke="#2b2b2b" stroke-width="0.9"/>
<text x="142.4" y="421.8" font-size="8.6" text-anchor="end" fill="#2b2b2b" textLength="20.02" lengthAdjust="spacingAndGlyphs">−0.05</text>
<line x1="145.9" y1="433.5" x2="148.5" y2="433.5" stroke="#2b2b2b" stroke-width="0.9"/>
<text x="142.4" y="435.8" font-size="8.6" text-anchor="end" fill="#2b2b2b" textLength="20.02" lengthAdjust="spacingAndGlyphs">−0.10</text>
<line x1="145.9" y1="447.5" x2="148.5" y2="447.5" stroke="#2b2b2b" stroke-width="0.9"/>
<text x="142.4" y="449.8" font-size="8.6" text-anchor="end" fill="#2b2b2b" textLength="20.02" lengthAdjust="spacingAndGlyphs">−0.15</text>
<line x1="145.9" y1="461.5" x2="148.5" y2="461.5" stroke="#2b2b2b" stroke-width="0.9"/>
<text x="142.4" y="463.8" font-size="8.6" text-anchor="end" fill="#2b2b2b" textLength="20.02" lengthAdjust="spacingAndGlyphs">−0.20</text>
<line x1="145.9" y1="475.5" x2="148.5" y2="475.5" stroke="#2b2b2b" stroke-width="0.9"/>
<text x="142.4" y="477.8" font-size="8.6" text-anchor="end" fill="#2b2b2b" textLength="20.02" lengthAdjust="spacingAndGlyphs">−0.25</text>
<text transform="translate(117,410) rotate(-90)" x="0" y="0" font-size="8.4" text-anchor="middle" fill="#2b2b2b" textLength="37.6" lengthAdjust="spacingAndGlyphs">Δ hPWT (g)</text>
<line x1="200.5" y1="346" x2="200.5" y2="476" stroke="#959595" stroke-width="1.0" stroke-dasharray="1 1"/>
<line x1="252" y1="346" x2="252" y2="476" stroke="#959595" stroke-width="1.0" stroke-dasharray="1 1"/>
<line x1="303.5" y1="346" x2="303.5" y2="476" stroke="#959595" stroke-width="1.0" stroke-dasharray="1 1"/>
<line x1="354.5" y1="346" x2="354.5" y2="476" stroke="#959595" stroke-width="1.0" stroke-dasharray="1 1"/>
<line x1="406" y1="346" x2="406" y2="476" stroke="#959595" stroke-width="1.0" stroke-dasharray="1 1"/>
<rect x="156.3" y="405.5" width="14.4" height="1.12" fill="#f8921a" stroke="#c56a00" stroke-width="0.6"/>
<rect x="178" y="405.5" width="14.4" height="5.74" fill="#f8921a" stroke="#c56a00" stroke-width="0.6"/>
<rect x="207.2" y="405.5" width="14.4" height="0.56" fill="#2bb1da" stroke="#1a7fb0" stroke-width="0.6"/>
<rect x="229" y="405.5" width="14.4" height="0.56" fill="#2bb1da" stroke="#1a7fb0" stroke-width="0.6"/>
<rect x="259" y="405.5" width="14.4" height="2.38" fill="#c9062b" stroke="#9a0a20" stroke-width="0.6"/>
<rect x="280.7" y="386.18" width="14.4" height="19.32" fill="#c9062b" stroke="#9a0a20" stroke-width="0.6"/>
<rect x="310.1" y="405.5" width="14.4" height="0.28" fill="#c9062b" stroke="#9a0a20" stroke-width="0.6"/>
<rect x="332.2" y="398.22" width="14.4" height="7.28" fill="#c9062b" stroke="#9a0a20" stroke-width="0.6"/>
<rect x="361.6" y="405.5" width="14.4" height="0.28" fill="#b7ca8c" stroke="#98ad6c" stroke-width="0.6"/>
<rect x="383.8" y="405.5" width="14.4" height="5.6" fill="#b7ca8c" stroke="#98ad6c" stroke-width="0.6"/>
<line x1="163.5" y1="405.5" x2="163.5" y2="411.1" stroke="#333" stroke-width="0.8"/>
<line x1="161.9" y1="411.1" x2="165.1" y2="411.1" stroke="#333" stroke-width="0.8"/>
<line x1="185.2" y1="411.24" x2="185.2" y2="414.46" stroke="#333" stroke-width="0.8"/>
<line x1="183.6" y1="414.46" x2="186.8" y2="414.46" stroke="#333" stroke-width="0.8"/>
<line x1="266.2" y1="407.88" x2="266.2" y2="413.34" stroke="#333" stroke-width="0.8"/>
<line x1="264.6" y1="413.34" x2="267.8" y2="413.34" stroke="#333" stroke-width="0.8"/>
<line x1="287.9" y1="386.18" x2="287.9" y2="379.18" stroke="#333" stroke-width="0.8"/>
<line x1="286.3" y1="379.18" x2="289.5" y2="379.18" stroke="#333" stroke-width="0.8"/>
<line x1="339.4" y1="398.22" x2="339.4" y2="395.7" stroke="#333" stroke-width="0.8"/>
<line x1="337.8" y1="395.7" x2="341" y2="395.7" stroke="#333" stroke-width="0.8"/>
<line x1="391" y1="411.1" x2="391" y2="414.74" stroke="#333" stroke-width="0.8"/>
<line x1="389.4" y1="414.74" x2="392.6" y2="414.74" stroke="#333" stroke-width="0.8"/>
<circle cx="157.5" cy="405.7" r="1.15" fill="none" stroke="#2a2a2a" stroke-width="0.75"/>
<circle cx="159.5" cy="405.7" r="1.15" fill="none" stroke="#2a2a2a" stroke-width="0.75"/>
<circle cx="161.5" cy="405.7" r="1.15" fill="none" stroke="#2a2a2a" stroke-width="0.75"/>
<circle cx="163.5" cy="405.7" r="1.15" fill="none" stroke="#2a2a2a" stroke-width="0.75"/>
<circle cx="165.5" cy="405.7" r="1.15" fill="none" stroke="#2a2a2a" stroke-width="0.75"/>
<circle cx="167.5" cy="405.7" r="1.15" fill="none" stroke="#2a2a2a" stroke-width="0.75"/>
<circle cx="169.5" cy="405.7" r="1.15" fill="none" stroke="#2a2a2a" stroke-width="0.75"/>
<circle cx="179.2" cy="405.7" r="1.15" fill="none" stroke="#2a2a2a" stroke-width="0.75"/>
<circle cx="181.2" cy="405.7" r="1.15" fill="none" stroke="#2a2a2a" stroke-width="0.75"/>
<circle cx="183.2" cy="405.7" r="1.15" fill="none" stroke="#2a2a2a" stroke-width="0.75"/>
<circle cx="185.2" cy="405.7" r="1.15" fill="none" stroke="#2a2a2a" stroke-width="0.75"/>
<circle cx="187.2" cy="405.7" r="1.15" fill="none" stroke="#2a2a2a" stroke-width="0.75"/>
<circle cx="189.2" cy="405.7" r="1.15" fill="none" stroke="#2a2a2a" stroke-width="0.75"/>
<circle cx="191.2" cy="405.7" r="1.15" fill="none" stroke="#2a2a2a" stroke-width="0.75"/>
<circle cx="208.4" cy="405.7" r="1.15" fill="none" stroke="#2a2a2a" stroke-width="0.75"/>
<circle cx="210.4" cy="405.7" r="1.15" fill="none" stroke="#2a2a2a" stroke-width="0.75"/>
<circle cx="212.4" cy="405.7" r="1.15" fill="none" stroke="#2a2a2a" stroke-width="0.75"/>
<circle cx="214.4" cy="405.7" r="1.15" fill="none" stroke="#2a2a2a" stroke-width="0.75"/>
<circle cx="216.4" cy="405.7" r="1.15" fill="none" stroke="#2a2a2a" stroke-width="0.75"/>
<circle cx="218.4" cy="405.7" r="1.15" fill="none" stroke="#2a2a2a" stroke-width="0.75"/>
<circle cx="220.4" cy="405.7" r="1.15" fill="none" stroke="#2a2a2a" stroke-width="0.75"/>
<circle cx="230.2" cy="405.7" r="1.15" fill="none" stroke="#2a2a2a" stroke-width="0.75"/>
<circle cx="232.2" cy="405.7" r="1.15" fill="none" stroke="#2a2a2a" stroke-width="0.75"/>
<circle cx="234.2" cy="405.7" r="1.15" fill="none" stroke="#2a2a2a" stroke-width="0.75"/>
<circle cx="236.2" cy="405.7" r="1.15" fill="none" stroke="#2a2a2a" stroke-width="0.75"/>
<circle cx="238.2" cy="405.7" r="1.15" fill="none" stroke="#2a2a2a" stroke-width="0.75"/>
<circle cx="240.2" cy="405.7" r="1.15" fill="none" stroke="#2a2a2a" stroke-width="0.75"/>
<circle cx="242.2" cy="405.7" r="1.15" fill="none" stroke="#2a2a2a" stroke-width="0.75"/>
<circle cx="260.2" cy="405.7" r="1.15" fill="none" stroke="#2a2a2a" stroke-width="0.75"/>
<circle cx="262.2" cy="405.7" r="1.15" fill="none" stroke="#2a2a2a" stroke-width="0.75"/>
<circle cx="264.2" cy="405.7" r="1.15" fill="none" stroke="#2a2a2a" stroke-width="0.75"/>
<circle cx="266.2" cy="405.7" r="1.15" fill="none" stroke="#2a2a2a" stroke-width="0.75"/>
<circle cx="268.2" cy="405.7" r="1.15" fill="none" stroke="#2a2a2a" stroke-width="0.75"/>
<circle cx="270.2" cy="405.7" r="1.15" fill="none" stroke="#2a2a2a" stroke-width="0.75"/>
<circle cx="272.2" cy="405.7" r="1.15" fill="none" stroke="#2a2a2a" stroke-width="0.75"/>
<circle cx="281.9" cy="405.7" r="1.15" fill="none" stroke="#2a2a2a" stroke-width="0.75"/>
<circle cx="283.9" cy="405.7" r="1.15" fill="none" stroke="#2a2a2a" stroke-width="0.75"/>
<circle cx="285.9" cy="405.7" r="1.15" fill="none" stroke="#2a2a2a" stroke-width="0.75"/>
<circle cx="287.9" cy="405.7" r="1.15" fill="none" stroke="#2a2a2a" stroke-width="0.75"/>
<circle cx="289.9" cy="405.7" r="1.15" fill="none" stroke="#2a2a2a" stroke-width="0.75"/>
<circle cx="291.9" cy="405.7" r="1.15" fill="none" stroke="#2a2a2a" stroke-width="0.75"/>
<circle cx="293.9" cy="405.7" r="1.15" fill="none" stroke="#2a2a2a" stroke-width="0.75"/>
<circle cx="311.3" cy="405.7" r="1.15" fill="none" stroke="#2a2a2a" stroke-width="0.75"/>
<circle cx="313.3" cy="405.7" r="1.15" fill="none" stroke="#2a2a2a" stroke-width="0.75"/>
<circle cx="315.3" cy="405.7" r="1.15" fill="none" stroke="#2a2a2a" stroke-width="0.75"/>
<circle cx="317.3" cy="405.7" r="1.15" fill="none" stroke="#2a2a2a" stroke-width="0.75"/>
<circle cx="319.3" cy="405.7" r="1.15" fill="none" stroke="#2a2a2a" stroke-width="0.75"/>
<circle cx="321.3" cy="405.7" r="1.15" fill="none" stroke="#2a2a2a" stroke-width="0.75"/>
<circle cx="323.3" cy="405.7" r="1.15" fill="none" stroke="#2a2a2a" stroke-width="0.75"/>
<circle cx="333.4" cy="405.7" r="1.15" fill="none" stroke="#2a2a2a" stroke-width="0.75"/>
<circle cx="335.4" cy="405.7" r="1.15" fill="none" stroke="#2a2a2a" stroke-width="0.75"/>
<circle cx="337.4" cy="405.7" r="1.15" fill="none" stroke="#2a2a2a" stroke-width="0.75"/>
<circle cx="339.4" cy="405.7" r="1.15" fill="none" stroke="#2a2a2a" stroke-width="0.75"/>
<circle cx="341.4" cy="405.7" r="1.15" fill="none" stroke="#2a2a2a" stroke-width="0.75"/>
<circle cx="343.4" cy="405.7" r="1.15" fill="none" stroke="#2a2a2a" stroke-width="0.75"/>
<circle cx="345.4" cy="405.7" r="1.15" fill="none" stroke="#2a2a2a" stroke-width="0.75"/>
<circle cx="362.8" cy="405.7" r="1.15" fill="none" stroke="#2a2a2a" stroke-width="0.75"/>
<circle cx="364.8" cy="405.7" r="1.15" fill="none" stroke="#2a2a2a" stroke-width="0.75"/>
<circle cx="366.8" cy="405.7" r="1.15" fill="none" stroke="#2a2a2a" stroke-width="0.75"/>
<circle cx="368.8" cy="405.7" r="1.15" fill="none" stroke="#2a2a2a" stroke-width="0.75"/>
<circle cx="370.8" cy="405.7" r="1.15" fill="none" stroke="#2a2a2a" stroke-width="0.75"/>
<circle cx="372.8" cy="405.7" r="1.15" fill="none" stroke="#2a2a2a" stroke-width="0.75"/>
<circle cx="374.8" cy="405.7" r="1.15" fill="none" stroke="#2a2a2a" stroke-width="0.75"/>
<circle cx="385" cy="405.7" r="1.15" fill="none" stroke="#2a2a2a" stroke-width="0.75"/>
<circle cx="387" cy="405.7" r="1.15" fill="none" stroke="#2a2a2a" stroke-width="0.75"/>
<circle cx="389" cy="405.7" r="1.15" fill="none" stroke="#2a2a2a" stroke-width="0.75"/>
<circle cx="391" cy="405.7" r="1.15" fill="none" stroke="#2a2a2a" stroke-width="0.75"/>
<circle cx="393" cy="405.7" r="1.15" fill="none" stroke="#2a2a2a" stroke-width="0.75"/>
<circle cx="395" cy="405.7" r="1.15" fill="none" stroke="#2a2a2a" stroke-width="0.75"/>
<circle cx="397" cy="405.7" r="1.15" fill="none" stroke="#2a2a2a" stroke-width="0.75"/>
<circle cx="163.3" cy="386.2" r="1.3" fill="none" stroke="#383838" stroke-width="0.8"/>
<circle cx="161.9" cy="425.6" r="1.3" fill="none" stroke="#383838" stroke-width="0.8"/>
<circle cx="164.4" cy="425.6" r="1.3" fill="none" stroke="#383838" stroke-width="0.8"/>
<circle cx="183.4" cy="425.6" r="1.3" fill="none" stroke="#383838" stroke-width="0.8"/>
<circle cx="185.8" cy="425.6" r="1.3" fill="none" stroke="#383838" stroke-width="0.8"/>
<circle cx="188.2" cy="425.6" r="1.3" fill="none" stroke="#383838" stroke-width="0.8"/>
<circle cx="214.4" cy="416.8" r="1.3" fill="none" stroke="#383838" stroke-width="0.8"/>
<circle cx="236.5" cy="416.8" r="1.3" fill="none" stroke="#383838" stroke-width="0.8"/>
<circle cx="266.2" cy="386.1" r="1.3" fill="none" stroke="#383838" stroke-width="0.8"/>
<circle cx="266.2" cy="451.8" r="1.3" fill="none" stroke="#383838" stroke-width="0.8"/>
<circle cx="283.6" cy="359.5" r="1.3" fill="none" stroke="#383838" stroke-width="0.8"/>
<circle cx="287.9" cy="359.5" r="1.3" fill="none" stroke="#383838" stroke-width="0.8"/>
<circle cx="292.2" cy="359.5" r="1.3" fill="none" stroke="#383838" stroke-width="0.8"/>
<circle cx="289" cy="390.8" r="1.3" fill="none" stroke="#383838" stroke-width="0.8"/>
<circle cx="282" cy="386.2" r="1.3" fill="none" stroke="#383838" stroke-width="0.8"/>
<circle cx="295" cy="386.2" r="1.3" fill="none" stroke="#383838" stroke-width="0.8"/>
<circle cx="391.3" cy="417" r="1.3" fill="none" stroke="#383838" stroke-width="0.8"/>
<circle cx="389.8" cy="429.2" r="1.3" fill="none" stroke="#383838" stroke-width="0.8"/>
<circle cx="392.8" cy="429.2" r="1.3" fill="none" stroke="#383838" stroke-width="0.8"/>
<circle cx="333.4" cy="394.4" r="1.15" fill="none" stroke="#383838" stroke-width="0.8"/>
<circle cx="335.4" cy="394.4" r="1.15" fill="none" stroke="#383838" stroke-width="0.8"/>
<circle cx="337.4" cy="394.4" r="1.15" fill="none" stroke="#383838" stroke-width="0.8"/>
<circle cx="339.4" cy="394.4" r="1.15" fill="none" stroke="#383838" stroke-width="0.8"/>
<circle cx="341.4" cy="394.4" r="1.15" fill="none" stroke="#383838" stroke-width="0.8"/>
<circle cx="343.4" cy="394.4" r="1.15" fill="none" stroke="#383838" stroke-width="0.8"/>
<circle cx="345.4" cy="394.4" r="1.15" fill="none" stroke="#383838" stroke-width="0.8"/>
<line x1="148.5" y1="346.8" x2="148.5" y2="476.1" stroke="#222" stroke-width="1.3"/>
<line x1="147.9" y1="475.5" x2="411.8" y2="475.5" stroke="#222" stroke-width="1.3"/>
<line x1="148.5" y1="405.5" x2="405.7" y2="405.5" stroke="#222" stroke-width="1.25"/>
<line x1="163.5" y1="475.5" x2="163.5" y2="478.3" stroke="#222" stroke-width="0.9"/>
<line x1="185.2" y1="475.5" x2="185.2" y2="478.3" stroke="#222" stroke-width="0.9"/>
<line x1="214.4" y1="475.5" x2="214.4" y2="478.3" stroke="#222" stroke-width="0.9"/>
<line x1="236.2" y1="475.5" x2="236.2" y2="478.3" stroke="#222" stroke-width="0.9"/>
<line x1="266.2" y1="475.5" x2="266.2" y2="478.3" stroke="#222" stroke-width="0.9"/>
<line x1="287.9" y1="475.5" x2="287.9" y2="478.3" stroke="#222" stroke-width="0.9"/>
<line x1="317.3" y1="475.5" x2="317.3" y2="478.3" stroke="#222" stroke-width="0.9"/>
<line x1="339.4" y1="475.5" x2="339.4" y2="478.3" stroke="#222" stroke-width="0.9"/>
<line x1="368.8" y1="475.5" x2="368.8" y2="478.3" stroke="#222" stroke-width="0.9"/>
<line x1="391" y1="475.5" x2="391" y2="478.3" stroke="#222" stroke-width="0.9"/>
<text x="174.3" y="461.5" font-size="8.8" text-anchor="middle" fill="#2b2b2b" textLength="33.1" lengthAdjust="spacingAndGlyphs">Negative</text>
<text x="174.4" y="470.8" font-size="8.8" text-anchor="middle" fill="#2b2b2b" textLength="25" lengthAdjust="spacingAndGlyphs">control</text>
<text x="225.7" y="461.5" font-size="8.8" text-anchor="middle" fill="#2b2b2b" textLength="19.8" lengthAdjust="spacingAndGlyphs">Sham</text>
<text x="225.85" y="470.8" font-size="8.8" text-anchor="middle" fill="#2b2b2b" textLength="35.7" lengthAdjust="spacingAndGlyphs">treatment</text>
<text x="277.55" y="466.3" font-size="8.8" text-anchor="middle" fill="#2b2b2b" textLength="41.5" lengthAdjust="spacingAndGlyphs">S1HL 40 Hz</text>
<text x="328.45" y="466.3" font-size="8.8" text-anchor="middle" fill="#2b2b2b" textLength="43.1" lengthAdjust="spacingAndGlyphs">Insula 40 Hz</text>
<text x="380.15" y="466.3" font-size="8.8" text-anchor="middle" fill="#2b2b2b" textLength="30.7" lengthAdjust="spacingAndGlyphs">S1 3 kHz</text>
<text transform="translate(163.5,484.8) rotate(-45)" x="0" y="0" font-size="8.3" text-anchor="end" fill="#2b2b2b" textLength="28.6" lengthAdjust="spacingAndGlyphs">Baseline</text>
<text transform="translate(185.2,484.8) rotate(-45)" x="0" y="0" font-size="8.3" text-anchor="end" fill="#2b2b2b" textLength="20" lengthAdjust="spacingAndGlyphs">8 min</text>
<text transform="translate(214.4,484.8) rotate(-45)" x="0" y="0" font-size="8.3" text-anchor="end" fill="#2b2b2b" textLength="28.6" lengthAdjust="spacingAndGlyphs">Baseline</text>
<text transform="translate(236.2,484.8) rotate(-45)" x="0" y="0" font-size="8.3" text-anchor="end" fill="#2b2b2b" textLength="20" lengthAdjust="spacingAndGlyphs">8 min</text>
<text transform="translate(266.2,484.8) rotate(-45)" x="0" y="0" font-size="8.3" text-anchor="end" fill="#2b2b2b" textLength="28.6" lengthAdjust="spacingAndGlyphs">Baseline</text>
<text transform="translate(287.9,484.8) rotate(-45)" x="0" y="0" font-size="8.3" text-anchor="end" fill="#2b2b2b" textLength="20" lengthAdjust="spacingAndGlyphs">8 min</text>
<text transform="translate(317.3,484.8) rotate(-45)" x="0" y="0" font-size="8.3" text-anchor="end" fill="#2b2b2b" textLength="28.6" lengthAdjust="spacingAndGlyphs">Baseline</text>
<text transform="translate(339.4,484.8) rotate(-45)" x="0" y="0" font-size="8.3" text-anchor="end" fill="#2b2b2b" textLength="20" lengthAdjust="spacingAndGlyphs">8 min</text>
<text transform="translate(368.8,484.8) rotate(-45)" x="0" y="0" font-size="8.3" text-anchor="end" fill="#2b2b2b" textLength="28.6" lengthAdjust="spacingAndGlyphs">Baseline</text>
<text transform="translate(391,484.8) rotate(-45)" x="0" y="0" font-size="8.3" text-anchor="end" fill="#2b2b2b" textLength="20" lengthAdjust="spacingAndGlyphs">8 min</text>
<line x1="163.8" y1="348.9" x2="186.8" y2="348.9" stroke="#3a3a3a" stroke-width="1.0"/>
<text x="175.3" y="345.6" font-size="8.0" text-anchor="middle" fill="#2b2b2b" textLength="7.6" lengthAdjust="spacingAndGlyphs">ns</text>
<line x1="215" y1="348.9" x2="236.9" y2="348.9" stroke="#3a3a3a" stroke-width="1.0"/>
<text x="225.8" y="345.6" font-size="8.0" text-anchor="middle" fill="#2b2b2b" textLength="7.6" lengthAdjust="spacingAndGlyphs">ns</text>
<line x1="371.5" y1="348.4" x2="393" y2="348.4" stroke="#3a3a3a" stroke-width="1.0"/>
<text x="382.3" y="345.1" font-size="8.0" text-anchor="middle" fill="#2b2b2b" textLength="7.6" lengthAdjust="spacingAndGlyphs">ns</text>
<path d="M266.5,348.9 L266.5,346.5 L290.5,346.5 L290.5,348.9" stroke="#333" stroke-width="1.0" fill="none"/>
<circle cx="278.9" cy="342.8" r="0.95" fill="#333"/>
<path d="M315.5,348.9 L315.5,346.5 L337.5,346.5 L337.5,348.9" stroke="#333" stroke-width="1.0" fill="none"/>
<circle cx="326.5" cy="342.8" r="0.95" fill="#333"/>
<path d="M183.5,296.7 L183.5,293.5 L336.5,293.5 L336.5,296.7" stroke="#333" stroke-width="1.0" fill="none"/>
<text x="259.7" y="291.03" font-size="6.8" text-anchor="middle" fill="#2b2b2b" textLength="7.64" lengthAdjust="spacingAndGlyphs">##</text>
<path d="M183.5,308.7 L183.5,305.5 L288.5,305.5 L288.5,308.7" stroke="#333" stroke-width="1.0" fill="none"/>
<text x="236.1" y="302.23" font-size="6.8" text-anchor="middle" fill="#2b2b2b" textLength="7.84" lengthAdjust="spacingAndGlyphs">##</text>
<path d="M237.5,322.7 L237.5,319.5 L389.5,319.5 L389.5,322.7" stroke="#333" stroke-width="1.0" fill="none"/>
<line x1="336.8" y1="319.2" x2="336.8" y2="321.8" stroke="#3a3a3a" stroke-width="0.9"/>
<text x="286.6" y="316.48" font-size="6.8" text-anchor="middle" fill="#2b2b2b">#</text>
<text x="363.7" y="316.43" font-size="6.8" text-anchor="middle" fill="#2b2b2b" textLength="7.44" lengthAdjust="spacingAndGlyphs">##</text>
<path d="M236.5,336.7 L236.5,333.5 L390.5,333.5 L390.5,336.7" stroke="#333" stroke-width="1.0" fill="none"/>
<line x1="289.4" y1="333.4" x2="289.4" y2="336" stroke="#3a3a3a" stroke-width="0.9"/>
<text x="262.65" y="330.38" font-size="6.8" text-anchor="middle" fill="#2b2b2b">#</text>
<text x="340.2" y="330.13" font-size="6.8" text-anchor="middle" fill="#2b2b2b" textLength="11.94" lengthAdjust="spacingAndGlyphs">###</text>
<path d="M0.5,512 L0.5,0.5 L519.5,0.5 L519.5,512" fill="none" stroke="#555" stroke-width="1.1"/>
<line x1="0" y1="511.2" x2="520" y2="511.2" stroke="#444" stroke-width="1.4"/>
</svg>
</body></html>
